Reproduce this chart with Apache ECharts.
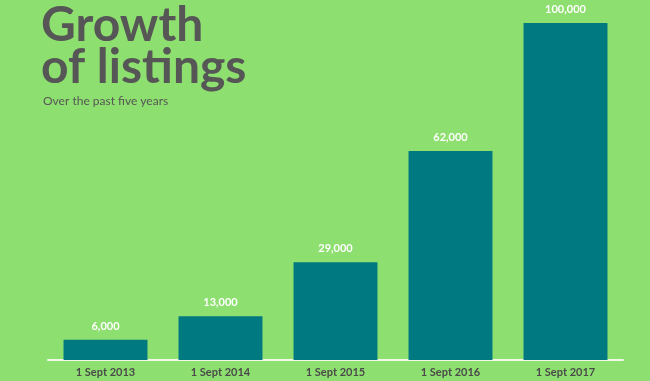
<!DOCTYPE html>
<html><head><meta charset="utf-8">
<script src="https://cdn.jsdelivr.net/npm/echarts@6/dist/echarts.min.js"></script>
<style>html,body{margin:0;padding:0;background:#8ddf6f;}#c{width:650px;height:381px;}</style>
</head><body><div id="c"></div>
<script>
const categories = ['1 Sept 2013','1 Sept 2014','1 Sept 2015','1 Sept 2016','1 Sept 2017'];
const listings = [6000, 13000, 29000, 62000, 100000];
const titleText = 'Growth\nof listings';
const subtitleText = 'Over the past five years';

const chart = echarts.init(document.getElementById('c'));
chart.setOption({
  backgroundColor: '#8ddf6f',
  animation: false,
  title: [
    { text: titleText, left: 36, top: 0,
      textStyle: { fontFamily: 'Lato', fontSize: 48, fontWeight: 'bold', color: '#565656', lineHeight: 42 } },
    { text: subtitleText, left: 38, top: 90,
      textStyle: { fontFamily: 'Lato', fontSize: 12, fontWeight: 'normal', color: '#565656' } }
  ],
  grid: { left: 48, right: 27, top: 23, bottom: 21 },
  xAxis: {
    type: 'category', data: categories,
    axisLine: { show: true, lineStyle: { color: '#f2f7ec', width: 2 } },
    axisTick: { show: false },
    axisLabel: { color: '#4a4a4a', fontFamily: 'Lato', fontWeight: 'bold', fontSize: 11, margin: 7 }
  },
  yAxis: { type: 'value', min: 0, max: 100000, show: false, splitLine: { show: false } },
  series: [{
    type: 'bar', data: listings, barWidth: '73%',
    itemStyle: { color: '#007a80' },
    label: { show: true, position: 'top', distance: 8, color: '#ffffff', fontFamily: 'Lato', fontWeight: 'bold', fontSize: 11,
      formatter: p => p.value.toLocaleString('en-US') }
  }]
});
</script></body></html>
